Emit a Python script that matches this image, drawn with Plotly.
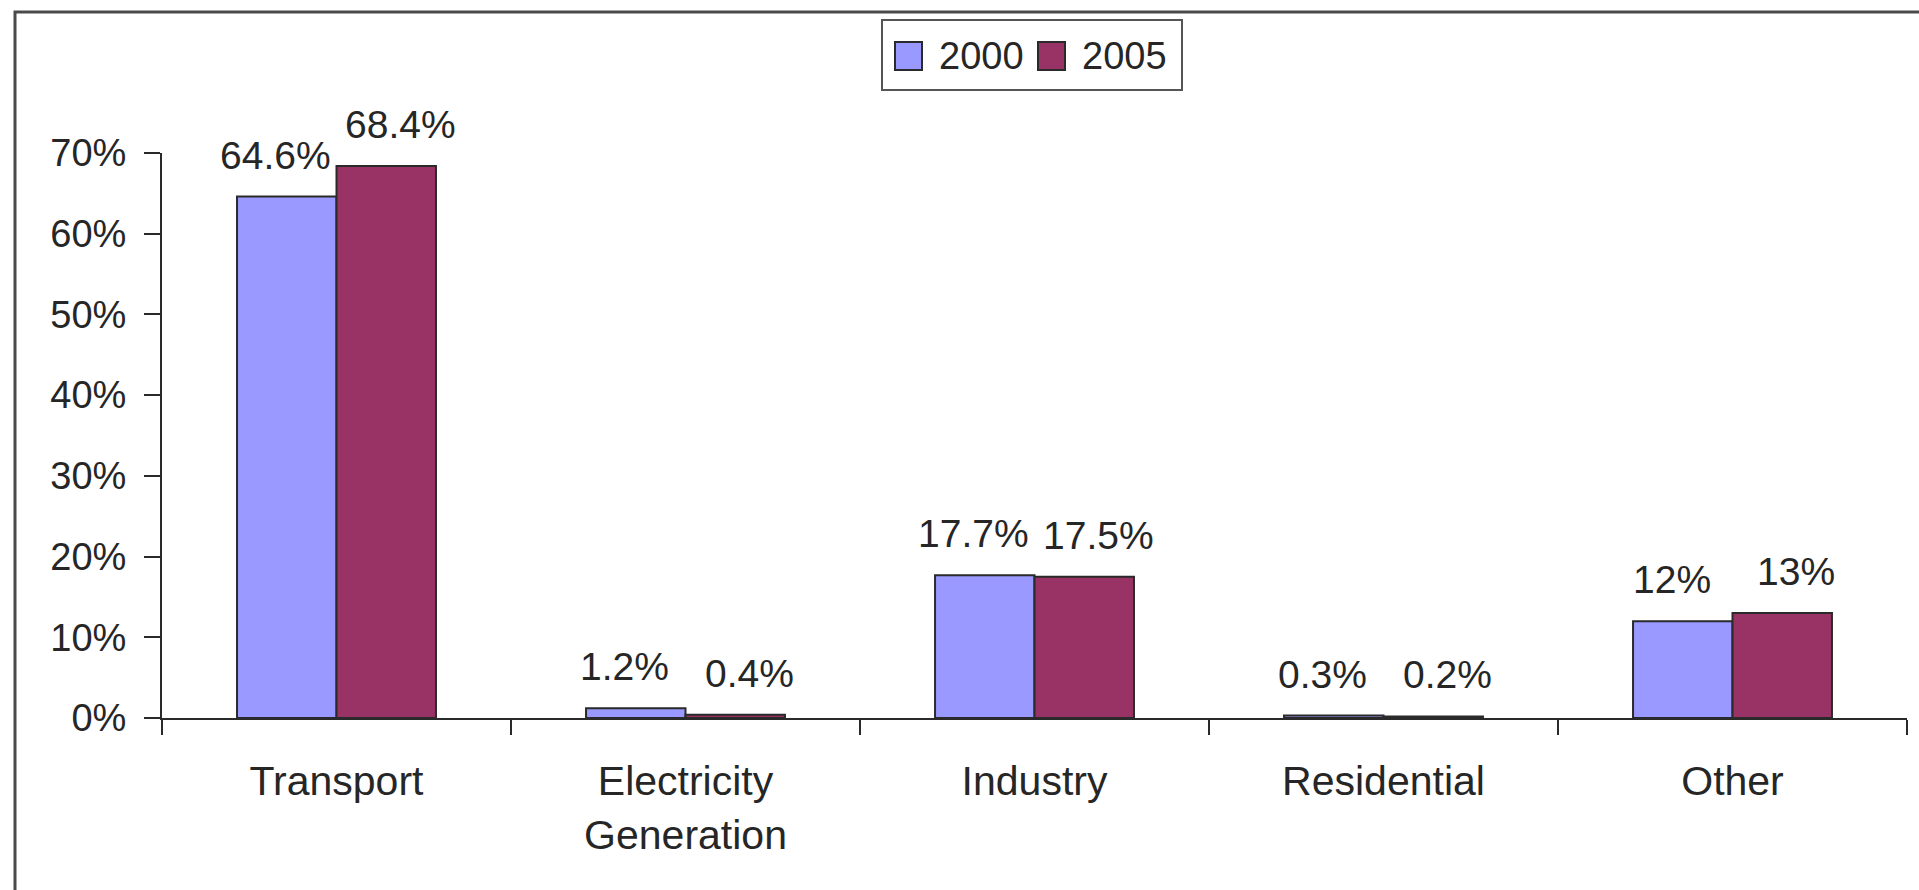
import plotly.graph_objects as go

# Share of emissions by sector, 2000 vs 2005
categories = ["Transport", "Electricity<br>Generation", "Industry", "Residential", "Other"]
series_names = ["2000", "2005"]
values_2000 = [64.6, 1.2, 17.7, 0.3, 12.0]
values_2005 = [68.4, 0.4, 17.5, 0.2, 13.0]
y_ticks = [0, 10, 20, 30, 40, 50, 60, 70]
y_tick_labels = [f"{v}%" for v in y_ticks]

colors = ["#9999FF", "#993366"]
text_color = "#262626"
line_color = "#2a2a2a"
font_family = "Liberation Sans, Arial, sans-serif"
font_size = 38

W, H = 1919, 890
ML, MR, MT, MB = 162, 12, 153, 172
PW, PH = W - ML - MR, H - MT - MB
BARGAP = 0.43


def px_x(px):
    return (px - ML) / PW


def px_y(py):
    return (H - MB - py) / PH


fig = go.Figure()
series = [values_2000, values_2005]
for name, vals, col in zip(series_names, series, colors):
    fig.add_trace(go.Bar(
        x=categories, y=vals, name=name,
        marker=dict(color=col, line=dict(color=line_color, width=2)),
        showlegend=False, hoverinfo="x+y",
    ))

# value labels above each bar, nudged slightly apart
bar_w = (1 - BARGAP) / len(series)
label_nudge = [-11, 14]
annotations = []
for k, vals in enumerate(series):
    shift = (k - (len(series) - 1) / 2) * bar_w
    for i, v in enumerate(vals):
        annotations.append(dict(
            x=i + shift, y=v, xref="x", yref="y",
            text=f"{v:g}%", showarrow=False,
            yanchor="bottom", xanchor="center", yshift=18, xshift=label_nudge[k],
            font=dict(family=font_family, size=39, color=text_color),
        ))

shapes = [
    # outer frame
    dict(type="rect", xref="paper", yref="paper",
         x0=px_x(15), x1=px_x(1960), y0=px_y(940), y1=px_y(12),
         line=dict(color="#4a4a4a", width=3), fillcolor="rgba(0,0,0,0)", layer="below"),
    # legend box
    dict(type="rect", xref="paper", yref="paper",
         x0=px_x(882), x1=px_x(1182), y0=px_y(90), y1=px_y(20),
         line=dict(color="#555555", width=2), fillcolor="white"),
]
legend_items = [(895, 937), (1038, 1080)]
for (sx, tx), name, col in zip(legend_items, series_names, colors):
    shapes.append(dict(type="rect", xref="paper", yref="paper",
                       x0=px_x(sx), x1=px_x(sx + 27), y0=px_y(70), y1=px_y(42),
                       line=dict(color=line_color, width=2), fillcolor=col))
    annotations.append(dict(
        x=px_x(tx), y=px_y(56), xref="paper", yref="paper",
        text=name, showarrow=False, xanchor="left", yanchor="middle",
        font=dict(family=font_family, size=font_size, color=text_color),
    ))

fig.update_layout(
    width=W, height=H, autosize=False,
    margin=dict(l=ML, r=MR, t=MT, b=MB, pad=0),
    paper_bgcolor="white", plot_bgcolor="white",
    barmode="group", bargap=BARGAP, bargroupgap=0,
    font=dict(family=font_family, size=font_size, color=text_color),
    annotations=annotations, shapes=shapes,
    showlegend=False,
)
fig.update_xaxes(
    type="category", showgrid=False, zeroline=False,
    showline=True, linecolor=line_color, linewidth=2,
    ticks="outside", tickson="boundaries", ticklen=15, tickwidth=2, tickcolor=line_color,
    tickfont=dict(family=font_family, size=41, color=text_color),
    ticklabelstandoff=26,
)
fig.update_yaxes(
    range=[0, 70], tickmode="array", tickvals=y_ticks, ticktext=y_tick_labels,
    showgrid=False, zeroline=False,
    showline=True, linecolor=line_color, linewidth=2,
    ticks="outside", ticklen=16, tickwidth=2, tickcolor=line_color,
    tickfont=dict(family=font_family, size=font_size, color=text_color),
    ticklabelstandoff=10,
)

fig.write_html("out.html")
